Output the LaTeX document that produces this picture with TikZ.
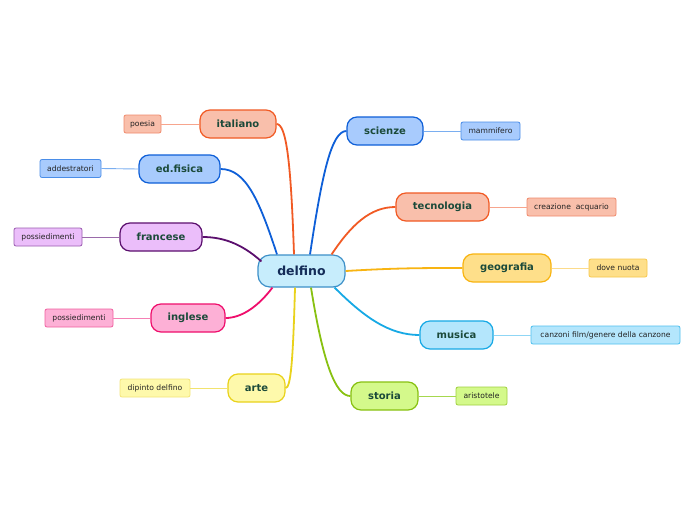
\documentclass[tikz,border=0pt]{standalone}
\usepackage{fontspec}
\setmainfont{DejaVu Sans}
\usetikzlibrary{calc}
\definecolor{oF}{HTML}{F9BFAB}\definecolor{oB}{HTML}{F15A24}\definecolor{oL}{HTML}{F7A58D}\definecolor{oLB}{HTML}{F08A6C}
\definecolor{bF}{HTML}{A8CBFD}\definecolor{bB}{HTML}{0E5FD8}\definecolor{bL}{HTML}{7AAEF0}\definecolor{bLB}{HTML}{4A8DE8}
\definecolor{pF}{HTML}{EBBEFA}\definecolor{pB}{HTML}{5B0F6E}\definecolor{pL}{HTML}{9A6AAA}\definecolor{pLB}{HTML}{9A5BB0}
\definecolor{kF}{HTML}{FDB0D6}\definecolor{kB}{HTML}{EF0E6C}\definecolor{kL}{HTML}{F580B5}\definecolor{kLB}{HTML}{F060A0}
\definecolor{yF}{HTML}{FEF9AB}\definecolor{yB}{HTML}{E9D21B}\definecolor{yL}{HTML}{F2E36E}\definecolor{yLB}{HTML}{F3E57A}
\definecolor{gF}{HTML}{FEDF8A}\definecolor{gB}{HTML}{F8B412}\definecolor{gL}{HTML}{FCDB8A}\definecolor{gLB}{HTML}{F8C84A}
\definecolor{cF}{HTML}{B4E6FC}\definecolor{cB}{HTML}{17A9E5}\definecolor{cL}{HTML}{8FD6F5}\definecolor{cLB}{HTML}{4EC0EE}
\definecolor{vF}{HTML}{D4F98B}\definecolor{vB}{HTML}{88C111}\definecolor{vL}{HTML}{A6D84E}\definecolor{vLB}{HTML}{A0D040}
\definecolor{dF}{HTML}{C7EDFC}\definecolor{dB}{HTML}{3D90C8}\definecolor{dT}{HTML}{142C58}
\definecolor{mT}{HTML}{1B4A3A}\definecolor{lT}{HTML}{222222}
\begin{document}
\begin{tikzpicture}[x=1pt,y=-1pt,
  topic/.style={draw, line width=1.2pt, rounded corners=10pt, minimum height=28pt, inner sep=0pt,
     font=\fontsize{10}{12}\selectfont\bfseries, text=mT},
  leaf/.style={draw, line width=0.8pt, rounded corners=2pt, minimum height=18pt, inner xsep=5pt, inner ysep=0pt,
     font=\fontsize{7.6}{9}\selectfont, text=lT},
  branch/.style={line width=1.8pt},
  twig/.style={line width=0.9pt}]
\path[use as bounding box, fill=white] (0,0) rectangle (696,520);
% central
\node[draw=dB, fill=dF, line width=1.2pt, rounded corners=12pt, minimum width=87pt, minimum height=32pt, inner sep=0pt,
  font=\fontsize{12.5}{14}\selectfont\bfseries, text=dT] (delfino) at (301.5,271) {delfino};
% topics
\node[topic, fill=oF, draw=oB, minimum width=76pt] (italiano) at (238,124) {italiano};
\node[topic, fill=bF, draw=bB, minimum width=81pt] (edfisica) at (179.5,169) {ed.fisica};
\node[topic, fill=pF, draw=pB, minimum width=82pt] (francese) at (161,237) {francese};
\node[topic, fill=kF, draw=kB, minimum width=74pt] (inglese) at (188,318) {inglese};
\node[topic, fill=yF, draw=yB, minimum width=57pt] (arte) at (256.5,388) {arte};
\node[topic, fill=bF, draw=bB, minimum width=76pt] (scienze) at (385,131) {scienze};
\node[topic, fill=oF, draw=oB, minimum width=93pt] (tecnologia) at (442.5,207) {tecnologia};
\node[topic, fill=gF, draw=gB, minimum width=88pt] (geografia) at (507,268) {geografia};
\node[topic, fill=cF, draw=cB, minimum width=73pt] (musica) at (456.5,335) {musica};
\node[topic, fill=vF, draw=vB, minimum width=67pt] (storia) at (384.5,396) {storia};
% leaves
\node[leaf, fill=oF, draw=oLB, minimum width=37pt] (poesia) at (142.5,124) {poesia};
\node[leaf, fill=bF, draw=bLB, minimum width=61pt] (addestratori) at (70.5,168.5) {addestratori};
\node[leaf, fill=pF, draw=pLB, minimum width=68pt] (poss1) at (48,237) {possiedimenti};
\node[leaf, fill=kF, draw=kLB, minimum width=68pt] (poss2) at (79,318) {possiedimenti};
\node[leaf, fill=yF, draw=yLB, minimum width=70pt] (dipinto) at (155,388) {dipinto delfino};
\node[leaf, fill=bF, draw=bLB, minimum width=59pt] (mammifero) at (490.5,131) {mammifero};
\node[leaf, fill=oF, draw=oLB, minimum width=89pt] (creazione) at (571.5,207) {creazione\ \ acquario};
\node[leaf, fill=gF, draw=gLB, minimum width=58pt] (dove) at (618,268) {dove nuota};
\node[leaf, fill=cF, draw=cLB, minimum width=149pt] (canzoni) at (605.5,335) {canzoni film/genere della canzone};
\node[leaf, fill=vF, draw=vLB, minimum width=51pt] (aristotele) at (481.5,396) {aristotele};
% branches
\begin{scope}[on background layer/.style={}]
\end{scope}
\draw[branch, oB] ($(delfino.north)+(-7.5,0)$) .. controls +(-3,-90) and +(10,0) .. (italiano.east);
\draw[branch, bB] ($(delfino.north)+(-24.5,0)$) .. controls +(-18,-55) and +(25,0) .. (edfisica.east);
\draw[branch, pB] ($(delfino.north west)+(4,7)$) .. controls +(-20,-18) and +(20,0) .. (francese.east);
\draw[branch, kB] ($(delfino.south west)+(15,0)$) .. controls +(-15,20) and +(15,0) .. (inglese.east);
\draw[branch, yB] ($(delfino.south)+(-6.5,0)$) .. controls +(-2,75) and +(5,0) .. (arte.east);
\draw[branch, bB] ($(delfino.north)+(8.5,0)$) .. controls +(12,-80) and +(-15,0) .. (scienze.west);
\draw[branch, oB] ($(delfino.north east)+(-14,0)$) .. controls +(20,-30) and +(-25,0) .. (tecnologia.west);
\draw[branch, gB] (delfino.east) .. controls +(50,-3) and +(-40,0) .. (geografia.west);
\draw[branch, cB] ($(delfino.south east)+(-11,0)$) .. controls +(30,30) and +(-30,0) .. (musica.west);
\draw[branch, vB] ($(delfino.south)+(9.5,0)$) .. controls +(12,75) and +(-15,0) .. (storia.west);
% twigs
\draw[twig, oL] (italiano.west) -- (poesia.east);
\draw[twig, bL] (edfisica.west) -- (addestratori.east);
\draw[twig, pL] (francese.west) -- (poss1.east);
\draw[twig, kL] (inglese.west) -- (poss2.east);
\draw[twig, yL] (arte.west) -- (dipinto.east);
\draw[twig, bL] (scienze.east) -- (mammifero.west);
\draw[twig, oL] (tecnologia.east) -- (creazione.west);
\draw[twig, gL] (geografia.east) -- (dove.west);
\draw[twig, cL] (musica.east) -- (canzoni.west);
\draw[twig, vL] (storia.east) -- (aristotele.west);
\end{tikzpicture}
\end{document}
